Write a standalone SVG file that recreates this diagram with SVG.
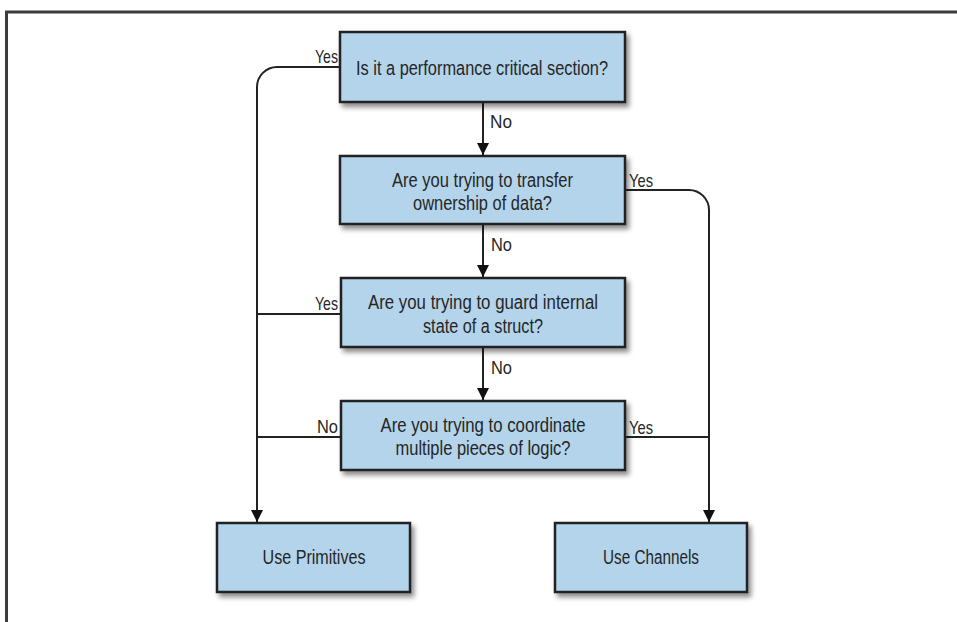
<svg xmlns="http://www.w3.org/2000/svg" width="957" height="622" viewBox="0 0 957 622">
  <style>
    .box { fill: #b3d4ea; stroke: #222; stroke-width: 2.5; filter: url(#shadow); }
    .txt { font-family: "Liberation Sans", Arial, sans-serif; font-size: 20px; fill: #262626; text-anchor: middle; }
    .lbl { font-family: "Liberation Sans", Arial, sans-serif; font-size: 19px; fill: #262626; }
    .wire { fill: none; stroke: #222; stroke-width: 2; }
    .frame { fill: none; stroke: #3c3c3c; stroke-width: 3; }
  </style>
  <defs>
    <filter id="shadow" x="-10%" y="-20%" width="125%" height="150%">
      <feDropShadow dx="3" dy="4" stdDeviation="2.5" flood-color="#000" flood-opacity="0.45"/>
    </filter>
    <marker id="arrow" viewBox="0 0 12 12" refX="12" refY="6" markerWidth="12" markerHeight="12" markerUnits="userSpaceOnUse" orient="auto">
      <path d="M0,0 L12,6 L0,12 Z" fill="#111"/>
    </marker>
  </defs>

  <rect width="957" height="622" fill="#fff"/>
  <!-- page frame -->
  <path class="frame" d="M6.5,622 V12 H957"/>

  <!-- connectors -->
  <g id="connectors">
    <path class="wire" d="M483,103 V155" marker-end="url(#arrow)"/>
    <path class="wire" d="M483,225 V277" marker-end="url(#arrow)"/>
    <path class="wire" d="M483,348 V400" marker-end="url(#arrow)"/>
    <path class="wire" d="M340,67 H277 A20,20 0 0 0 257,87 V522" marker-end="url(#arrow)"/>
    <path class="wire" d="M341,314 H257"/>
    <path class="wire" d="M341,437 H257"/>
    <path class="wire" d="M625,190 H689 A20,20 0 0 1 709,210 V522" marker-end="url(#arrow)"/>
    <path class="wire" d="M625,437 H709"/>

    <text class="lbl" x="490" y="128" textLength="22" lengthAdjust="spacingAndGlyphs">No</text>
    <text class="lbl" x="491" y="251" textLength="21" lengthAdjust="spacingAndGlyphs">No</text>
    <text class="lbl" x="491" y="374" textLength="21" lengthAdjust="spacingAndGlyphs">No</text>
    <text class="lbl" x="315" y="63" textLength="23" lengthAdjust="spacingAndGlyphs">Yes</text>
    <text class="lbl" x="629" y="187" textLength="24" lengthAdjust="spacingAndGlyphs">Yes</text>
    <text class="lbl" x="315" y="310" textLength="23" lengthAdjust="spacingAndGlyphs">Yes</text>
    <text class="lbl" x="317" y="433" textLength="21" lengthAdjust="spacingAndGlyphs">No</text>
    <text class="lbl" x="629" y="434" textLength="24" lengthAdjust="spacingAndGlyphs">Yes</text>
  </g>

  <g id="q-performance">
    <rect class="box" x="340" y="32" width="285" height="70"/>
    <text class="txt" x="482" y="75" textLength="252" lengthAdjust="spacingAndGlyphs">Is it a performance critical section?</text>
  </g>

  <g id="q-ownership">
    <rect class="box" x="340" y="156" width="285" height="68"/>
    <text class="txt" x="482.5" y="187" textLength="181" lengthAdjust="spacingAndGlyphs">Are you trying to transfer</text>
    <text class="txt" x="482.5" y="210" textLength="139" lengthAdjust="spacingAndGlyphs">ownership of data?</text>
  </g>

  <g id="q-guard-state">
    <rect class="box" x="341" y="278" width="284" height="69"/>
    <text class="txt" x="483" y="309" textLength="230" lengthAdjust="spacingAndGlyphs">Are you trying to guard internal</text>
    <text class="txt" x="483" y="333" textLength="120" lengthAdjust="spacingAndGlyphs">state of a struct?</text>
  </g>

  <g id="q-coordinate">
    <rect class="box" x="341" y="401" width="284" height="69"/>
    <text class="txt" x="483" y="432" textLength="205" lengthAdjust="spacingAndGlyphs">Are you trying to coordinate</text>
    <text class="txt" x="483" y="455" textLength="175" lengthAdjust="spacingAndGlyphs">multiple pieces of logic?</text>
  </g>

  <g id="use-primitives">
    <rect class="box" x="217" y="523" width="193" height="69"/>
    <text class="txt" x="314" y="564" textLength="103" lengthAdjust="spacingAndGlyphs">Use Primitives</text>
  </g>

  <g id="use-channels">
    <rect class="box" x="555" y="523" width="192" height="69"/>
    <text class="txt" x="651" y="564" textLength="96" lengthAdjust="spacingAndGlyphs">Use Channels</text>
  </g>
</svg>
